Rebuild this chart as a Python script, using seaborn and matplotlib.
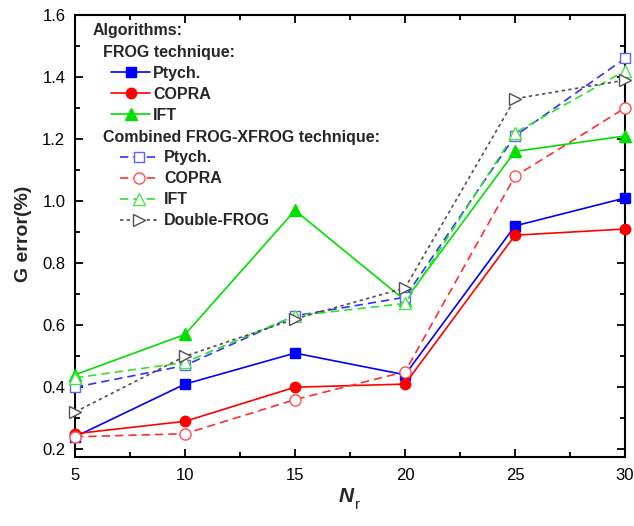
import matplotlib
matplotlib.use("Agg")
import matplotlib.pyplot as plt
import seaborn as sns
import numpy as np
from matplotlib.lines import Line2D
from matplotlib.ticker import MultipleLocator, FormatStrFormatter

sns.set_style("ticks")
plt.rcParams['font.family'] = ['Liberation Sans', 'DejaVu Sans']

nr = [5, 10, 15, 20, 25, 30]
frog_ptych = [0.24, 0.41, 0.51, 0.44, 0.92, 1.01]
frog_copra = [0.25, 0.29, 0.40, 0.41, 0.89, 0.91]
frog_ift = [0.44, 0.57, 0.97, 0.68, 1.16, 1.21]
comb_ptych = [0.40, 0.47, 0.63, 0.69, 1.21, 1.46]
comb_copra = [0.24, 0.25, 0.36, 0.45, 1.08, 1.30]
comb_ift = [0.43, 0.48, 0.63, 0.67, 1.22, 1.42]
double_frog = [0.32, 0.50, 0.62, 0.72, 1.33, 1.39]

fig = plt.figure(figsize=(6.34, 5.26), dpi=100)
ax = fig.add_axes([0.1183, 0.1312, 0.8675, 0.8403])

series = [
    (frog_ptych, dict(color='#0000ff', ls='-', marker='s', mfc='#0000ff', mec='#0000ff', ms=6.5), 'Ptych.'),
    (frog_copra, dict(color='#ff0000', ls='-', marker='o', mfc='#ff0000', mec='#ff0000', ms=7.5), 'COPRA'),
    (frog_ift, dict(color='#00e000', ls='-', marker='^', mfc='#00e000', mec='#00e000', ms=8), 'IFT'),
    (comb_ptych, dict(color='#3030ff', ls=(0, (5, 3)), marker='s', mfc='white', mec='#6060ff', ms=7), 'Ptych.'),
    (comb_copra, dict(color='#ff3030', ls=(0, (5, 3)), marker='o', mfc='white', mec='#ff5050', ms=8), 'COPRA'),
    (comb_ift, dict(color='#30e030', ls=(0, (5, 3)), marker='^', mfc='white', mec='#50e050', ms=8.5), 'IFT'),
    (double_frog, dict(color='#505050', ls=(0, (2, 2)), marker='>', mfc='white', mec='#505050', ms=8.5), 'Double-FROG'),
]

handles = []
for vals, st, lab in series:
    sns.lineplot(x=nr, y=vals, ax=ax, color=st['color'], linestyle=st['ls'],
                 linewidth=1.2, marker=st['marker'], markersize=st['ms'],
                 markerfacecolor=st['mfc'], markeredgecolor=st['mec'],
                 markeredgewidth=1.0, clip_on=False, zorder=3)
    handles.append(Line2D([], [], color=st['color'], linestyle=st['ls'], linewidth=1.2,
                          marker=st['marker'], markersize=st['ms'], markerfacecolor=st['mfc'],
                          markeredgecolor=st['mec'], markeredgewidth=1.0))
labels = [s[2] for s in series]

ax.set_xlim(5, 30)
ax.set_ylim(0.175, 1.6)
ax.xaxis.set_major_locator(MultipleLocator(5))
ax.xaxis.set_minor_locator(MultipleLocator(2.5))
ax.yaxis.set_major_locator(MultipleLocator(0.2))
ax.yaxis.set_minor_locator(MultipleLocator(0.1))
ax.yaxis.set_major_formatter(FormatStrFormatter('%.1f'))
ax.tick_params(which='both', direction='in', top=True, right=True, width=1.3, labelsize=12, colors='black')
ax.tick_params(which='major', length=6)
ax.tick_params(which='minor', length=3.5)
ax.tick_params(axis='x', pad=8)
ax.tick_params(axis='y', pad=7)
for s in ax.spines.values():
    s.set_linewidth(1.5)
    s.set_color('black')

ax.set_xlabel('')
fig.text(346 / 634, 1 - 497 / 526, 'N', fontsize=15, fontweight='bold', style='italic', ha='center', va='center')
fig.text(358 / 634, 1 - 505 / 526, 'r', fontsize=11, fontweight='normal', ha='center', va='center')
ax.set_ylabel('G error(%)', fontsize=14, fontweight='bold')
ax.yaxis.set_label_coords(-0.078, 0.505)

fs = 11.5
ax.text(0.0327, 0.966, 'Algorithms:', transform=ax.transAxes, fontsize=fs, fontweight='bold', va='center')
ax.text(0.05, 0.9145, 'FROG technique:', transform=ax.transAxes, fontsize=fs, fontweight='bold', va='center')
ax.text(0.05, 0.7235, 'Combined FROG-XFROG technique:', transform=ax.transAxes, fontsize=fs, fontweight='bold', va='center')

leg1 = ax.legend(handles[:3], labels[:3], loc='upper left', bbox_to_anchor=(0.0655, 0.885),
                 frameon=False, borderpad=0, borderaxespad=0, handlelength=2.45, handletextpad=0.2,
                 labelspacing=0.38, prop=dict(weight='bold', size=fs))
ax.add_artist(leg1)
leg2 = ax.legend(handles[3:], labels[3:], loc='upper left', bbox_to_anchor=(0.0818, 0.694),
                 frameon=False, borderpad=0, borderaxespad=0, handlelength=2.4, handletextpad=0.35,
                 labelspacing=0.38, prop=dict(weight='bold', size=fs))

fig.savefig('out.png', dpi=100)
